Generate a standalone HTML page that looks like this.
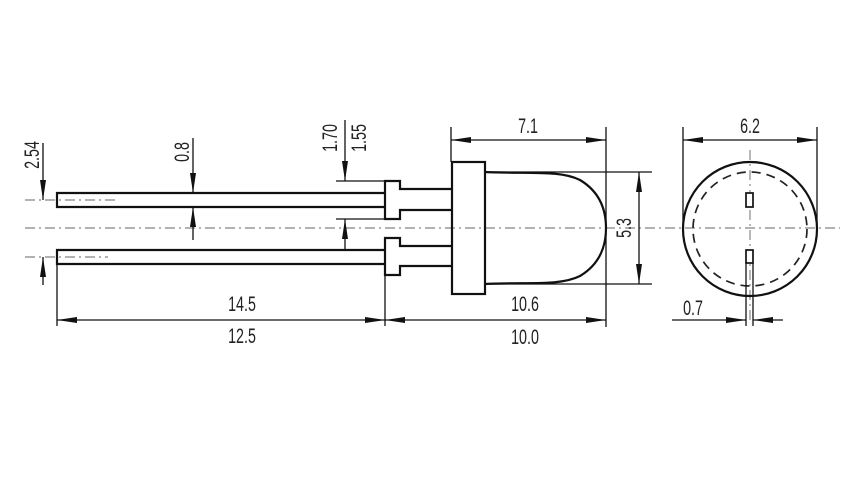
<!DOCTYPE html>
<html><head><meta charset="utf-8"><style>
html,body{margin:0;padding:0;background:#fff;}
svg{display:block;}
text{font-family:"Liberation Sans",sans-serif;font-size:21px;fill:#222;}
</style></head><body>
<svg width="851" height="502" viewBox="0 0 851 502">
<defs>
<marker id="a" viewBox="0 0 20 8" refX="20" refY="4" markerWidth="20" markerHeight="8" markerUnits="userSpaceOnUse" orient="auto-start-reverse">
<path d="M0,1 L20,4 L0,7 Z" fill="#111"/></marker>
</defs>
<g stroke="#999" stroke-width="1.4" stroke-dasharray="10,4,2,4" fill="none">
<line x1="25" y1="228" x2="840" y2="228"/>
<line x1="25" y1="200" x2="115" y2="200"/>
<line x1="25" y1="257" x2="108" y2="257"/>
<line x1="750" y1="150" x2="750" y2="320"/>
</g>
<g stroke="#111" stroke-width="2.2" fill="none">
<path d="M385,193 H57 V207 H385"/>
<path d="M385,250 H57 V264 H385"/>
<path d="M452,189 H400 V181 H385 V219 H400 V210 H452"/>
<path d="M452,246 H400 V238 H385 V275 H400 V266 H452"/>
<rect x="452" y="162" width="33" height="132"/>
<path d="M485,172 C530,174 560,170 580,180 C600,192 606,210 606,228 C606,246 600,264 580,276 C560,286 530,282 485,284"/>
<circle cx="750" cy="229" r="67"/>
</g>
<circle cx="750" cy="229" r="57" stroke="#222" stroke-width="1.7" fill="none" stroke-dasharray="9,6"/>
<g stroke="#111" stroke-width="1.7" fill="#fff">
<rect x="746" y="193" width="7" height="14"/>
<rect x="746" y="250" width="7" height="13"/>
</g>
<g stroke="#111" stroke-width="1.3" fill="none">
<line x1="746" y1="263" x2="746" y2="326"/>
<line x1="753" y1="263" x2="753" y2="326"/>
<line x1="57" y1="264" x2="57" y2="326"/>
<line x1="385" y1="275" x2="385" y2="326"/>
<line x1="606" y1="127" x2="606" y2="327"/>
<line x1="451" y1="127" x2="451" y2="162"/>
<line x1="485" y1="172" x2="652" y2="172"/>
<line x1="485" y1="284" x2="652" y2="284"/>
<line x1="683" y1="127" x2="683" y2="229"/>
<line x1="817" y1="127" x2="817" y2="229"/>
<line x1="336" y1="181" x2="385" y2="181"/>
<line x1="336" y1="219" x2="385" y2="219"/>
<line x1="57" y1="320" x2="385" y2="320" marker-start="url(#a)" marker-end="url(#a)"/>
<line x1="385" y1="320" x2="606" y2="320" marker-start="url(#a)" marker-end="url(#a)"/>
<line x1="451" y1="140" x2="606" y2="140" marker-start="url(#a)" marker-end="url(#a)"/>
<line x1="683" y1="140" x2="817" y2="140" marker-start="url(#a)" marker-end="url(#a)"/>
<line x1="639" y1="172" x2="639" y2="284" marker-start="url(#a)" marker-end="url(#a)"/>
<line x1="672" y1="320" x2="746" y2="320" marker-end="url(#a)"/>
<line x1="783" y1="320" x2="753" y2="320" marker-end="url(#a)"/>
<line x1="43" y1="143" x2="43" y2="200" marker-end="url(#a)"/>
<line x1="43" y1="285" x2="43" y2="257" marker-end="url(#a)"/>
<line x1="193" y1="138" x2="193" y2="193" marker-end="url(#a)"/>
<line x1="193" y1="240" x2="193" y2="207" marker-end="url(#a)"/>
<line x1="345" y1="120" x2="345" y2="181" marker-end="url(#a)"/>
<line x1="345" y1="250" x2="345" y2="219" marker-end="url(#a)"/>
</g>
<g>
<text transform="translate(242 311) scale(0.68 1)" text-anchor="middle">14.5</text>
<text transform="translate(242 343) scale(0.68 1)" text-anchor="middle">12.5</text>
<text transform="translate(525 311) scale(0.68 1)" text-anchor="middle">10.6</text>
<text transform="translate(525 344) scale(0.68 1)" text-anchor="middle">10.0</text>
<text transform="translate(528 133) scale(0.68 1)" text-anchor="middle">7.1</text>
<text transform="translate(750 133) scale(0.68 1)" text-anchor="middle">6.2</text>
<text transform="translate(693 315) scale(0.68 1)" text-anchor="middle">0.7</text>
<text transform="translate(631 228) rotate(-90) scale(0.68 1)" text-anchor="middle">5.3</text>
<text transform="translate(39 155) rotate(-90) scale(0.68 1)" text-anchor="middle">2.54</text>
<text transform="translate(189 152) rotate(-90) scale(0.68 1)" text-anchor="middle">0.8</text>
<text transform="translate(337 138) rotate(-90) scale(0.68 1)" text-anchor="middle">1.70</text>
<text transform="translate(366 138) rotate(-90) scale(0.68 1)" text-anchor="middle">1.55</text>
</g>
</svg>
</body></html>
